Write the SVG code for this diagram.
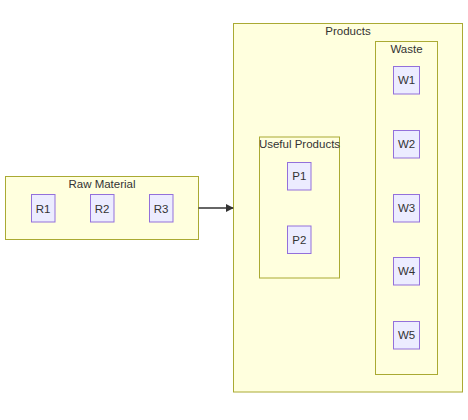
<svg xmlns="http://www.w3.org/2000/svg" width="468" height="420" viewBox="0 0 468 420">
<style>
.cl{fill:#ffffde;stroke:#aaaa33;stroke-width:1}
.nd{fill:#ececff;stroke:#9370db;stroke-width:1}
text{font-family:"Liberation Sans",Arial,sans-serif;font-size:11.5px;fill:#333;text-anchor:middle;dominant-baseline:central}
.ln{stroke:#333;stroke-width:1.5;fill:none}
</style>
<defs>
<marker id="ah" viewBox="0 0 10 10" refX="9" refY="5" markerWidth="8" markerHeight="8" markerUnits="userSpaceOnUse" orient="auto"><path d="M0,0L10,5L0,10z" fill="#333"/></marker>
</defs>
<rect width="468" height="420" fill="#fff"/>
<g id="RawMaterial"><rect class="cl" x="5.5" y="176.5" width="193" height="63"/><text x="102" y="183.5">Raw Material</text></g>
<g id="Products"><rect class="cl" x="233.5" y="23.5" width="229" height="368.5"/><text x="348" y="30.5">Products</text></g>
<g id="Useful"><rect class="cl" x="259.5" y="137" width="80" height="141"/><text x="299.5" y="144">Useful Products</text></g>
<g id="Waste"><rect class="cl" x="375.5" y="41.5" width="62" height="333"/><text x="406.5" y="48.5">Waste</text></g>
<g id="R1"><rect class="nd" x="31.5" y="194.5" width="23.5" height="27.5"/><text x="43" y="208.5">R1</text></g>
<g id="R2"><rect class="nd" x="90.5" y="194.5" width="23.5" height="27.5"/><text x="102" y="208.5">R2</text></g>
<g id="R3"><rect class="nd" x="149.5" y="194.5" width="23.5" height="27.5"/><text x="161" y="208.5">R3</text></g>
<g id="P1"><rect class="nd" x="287.5" y="162.5" width="23.5" height="27.5"/><text x="299.3" y="176.3">P1</text></g>
<g id="P2"><rect class="nd" x="287.5" y="226" width="23.5" height="27.5"/><text x="299.3" y="240">P2</text></g>
<g id="W1"><rect class="nd" x="393.5" y="66.5" width="26" height="27.5"/><text x="406.5" y="80.3">W1</text></g>
<g id="W2"><rect class="nd" x="393.5" y="130.5" width="26" height="27.5"/><text x="406.5" y="144.3">W2</text></g>
<g id="W3"><rect class="nd" x="393.5" y="194.5" width="26" height="27.5"/><text x="406.5" y="208.3">W3</text></g>
<g id="W4"><rect class="nd" x="393.5" y="257.5" width="26" height="27.5"/><text x="406.5" y="271.3">W4</text></g>
<g id="W5"><rect class="nd" x="393.5" y="321.5" width="26" height="27.5"/><text x="406.5" y="335.3">W5</text></g>
<g id="connectors"><path class="ln" d="M198.5,208 L233,208" marker-end="url(#ah)"/></g>
</svg>
